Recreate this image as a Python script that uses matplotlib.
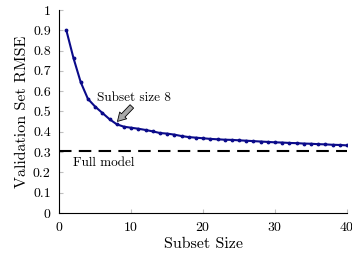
import numpy as np
import matplotlib
matplotlib.use("Agg")
import matplotlib.pyplot as plt

plt.rcParams['font.family'] = ['cmr10', 'DejaVu Serif']
plt.rcParams['axes.formatter.use_mathtext'] = True

subset_size = np.arange(1, 41)
rmse = [0.900, 0.762, 0.644, 0.562, 0.524, 0.493, 0.462, 0.437, 0.425, 0.420,
        0.415, 0.409, 0.402, 0.394, 0.391, 0.386, 0.379, 0.374, 0.371, 0.368,
        0.365, 0.363, 0.361, 0.360, 0.358, 0.356, 0.354, 0.352, 0.350, 0.348,
        0.347, 0.345, 0.344, 0.342, 0.341, 0.339, 0.338, 0.336, 0.335, 0.333]
full_model = 0.307
best_size = 8

yticks = [0, 0.1, 0.2, 0.3, 0.4, 0.5, 0.6, 0.7, 0.8, 0.9, 1]
yticklabels = ['0', '0.1', '0.2', '0.3', '0.4', '0.5', '0.6', '0.7', '0.8', '0.9', '1']
xticks = [0, 10, 20, 30, 40]

fig = plt.figure(figsize=(3.52, 2.62), dpi=100)
ax = fig.add_axes([0.168, 0.187, 0.818, 0.775])

ax.plot(subset_size, rmse, color='#0b0b8a', lw=1.5, marker='.', ms=3.5)
ax.axhline(full_model, color='black', lw=1.5, ls=(0, (6, 3.5)))

ax.text(1.9, full_model - 0.058, 'Full model', fontsize=9.5, va='center')
ax.text(5.2, 0.567, 'Subset size 8', fontsize=9.5, va='center')
ax.annotate('',
            xy=(best_size + 0.1, rmse[best_size - 1] + 0.014),
            xytext=(10.1, 0.525),
            arrowprops=dict(arrowstyle='simple,head_width=0.7,head_length=0.6,tail_width=0.35',
                            fc='#a8a8a8', ec='black', lw=0.6,
                            shrinkA=0, shrinkB=0))

ax.set_xlim(0, 40)
ax.set_ylim(0, 1)
ax.set_xticks(xticks)
ax.set_yticks(yticks)
ax.set_yticklabels(yticklabels)
ax.tick_params(direction='in', length=3, color='#c0c0c0', labelsize=10, pad=6)
for s in ['top', 'right']:
    ax.spines[s].set_visible(False)
ax.set_xlabel('Subset Size', fontsize=11.5, labelpad=2)
ax.set_ylabel('Validation Set RMSE', fontsize=11.5, labelpad=3)

plt.savefig('out.png', dpi=100)
